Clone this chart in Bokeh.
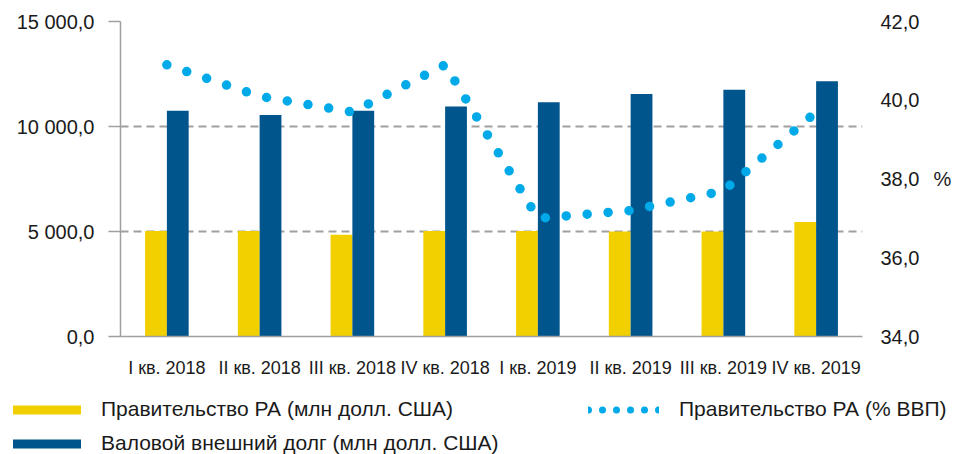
from bokeh.plotting import figure
from bokeh.models import (Range1d, FactorRange, LinearAxis, FixedTicker, Legend,
                          LegendItem, ColumnDataSource)
from bokeh.core.properties import value
from bokeh.transform import dodge
from bokeh.embed import file_html
from bokeh.resources import INLINE

# ---------------- data ----------------
quarters = ["I кв. 2018", "II кв. 2018", "III кв. 2018", "IV кв. 2018",
            "I кв. 2019", "II кв. 2019", "III кв. 2019", "IV кв. 2019"]
gov_musd = [5020, 5020, 4850, 5020, 5020, 5000, 5000, 5450]
gross_ext_debt_musd = [10750, 10550, 10750, 10950, 11150, 11550, 11750, 12150]
gov_pct_gdp = [40.9, 40.1, 39.7, 40.9, 37.0, 37.2, 37.7, 39.7]

left_ticks = [0, 5000, 10000, 15000]
left_tick_labels = ["0,0", "5 000,0", "10 000,0", "15 000,0"]
right_ticks = [34, 36, 38, 40, 42]
right_tick_labels = ["34,0", "36,0", "38,0", "40,0", "42,0"]
legend_labels = ["Правительство РА (млн долл. США)",
                 "Валовой внешний долг (млн долл. США)",
                 "Правительство РА (% ВВП)"]
right_unit = "%"

# ---------------- style ----------------
FONT = "Liberation Sans"
TXT = "#1a1a1a"
YELLOW = "#F2D000"
BLUE = "#00558C"
CYAN = "#00AAE8"
GRID = "#A0A0A0"
BAR_W = 0.235
W = 954

src = ColumnDataSource(dict(q=quarters, gov=gov_musd, debt=gross_ext_debt_musd,
                            pct=gov_pct_gdp))

p = figure(width=W, height=380,
           x_range=FactorRange(factors=quarters, range_padding=0),
           y_range=Range1d(0, 15000),
           output_backend="svg", toolbar_location=None,
           min_border_left=120, min_border_right=87,
           min_border_top=21, min_border_bottom=43)
p.outline_line_color = None
p.background_fill_color = "white"
p.extra_y_ranges = {"pct": Range1d(34, 42)}

p.vbar(x=dodge("q", -BAR_W / 2, range=p.x_range), top="gov", width=BAR_W,
       source=src, fill_color=YELLOW, line_color=None)
p.vbar(x=dodge("q", BAR_W / 2, range=p.x_range), top="debt", width=BAR_W,
       source=src, fill_color=BLUE, line_color=None)
p.line(x="q", y="pct", source=src, y_range_name="pct",
       line_color=CYAN, line_width=9.5, line_dash="0 21", line_cap="round")

# ---------------- axes ----------------
xa = p.below[0]
xa.axis_line_color = GRID
xa.axis_line_width = 1.5
xa.major_tick_line_color = None
xa.minor_tick_line_color = None
xa.major_label_text_font = FONT
xa.major_label_text_font_size = "18px"
xa.major_label_text_color = TXT
xa.major_label_standoff = 15

ya = p.left[0]
ya.ticker = FixedTicker(ticks=left_ticks)
ya.major_label_overrides = dict(zip(left_ticks, left_tick_labels))
ya.axis_line_color = GRID
ya.axis_line_width = 1.5
ya.major_tick_line_color = GRID
ya.major_tick_line_width = 1.5
ya.major_tick_out = 12
ya.major_tick_in = 0
ya.minor_tick_line_color = None
ya.major_label_text_font = FONT
ya.major_label_text_font_size = "20px"
ya.major_label_text_color = TXT
ya.major_label_standoff = 14

ra = LinearAxis(y_range_name="pct", ticker=FixedTicker(ticks=right_ticks))
ra.major_label_overrides = dict(zip(right_ticks, right_tick_labels))
ra.axis_line_color = None
ra.major_tick_line_color = None
ra.minor_tick_line_color = None
ra.major_label_text_font = FONT
ra.major_label_text_font_size = "20px"
ra.major_label_text_color = TXT
ra.major_label_standoff = 12
ra.axis_label = right_unit
ra.axis_label_text_font = FONT
ra.axis_label_text_font_size = "20px"
ra.axis_label_text_font_style = "normal"
ra.axis_label_text_color = TXT
ra.axis_label_standoff = 11
try:
    ra.axis_label_orientation = "horizontal"
except Exception:
    pass
p.add_layout(ra, "right")

p.xgrid.visible = False
p.ygrid.grid_line_color = GRID
p.ygrid.grid_line_dash = "8 5"
p.ygrid.grid_line_width = 1.8

# ---------------- legend strip (separate root, frame = whole strip) ----------------
LH = 74
lp = figure(width=W, height=LH,
            x_range=FactorRange(factors=quarters, range_padding=0),
            y_range=Range1d(0, 15000),
            x_axis_type=None, y_axis_type=None,
            output_backend="svg", toolbar_location=None, min_border=0)
lp.grid.visible = False
lp.outline_line_color = None
# same series, not drawn here: they only supply the legend samples
l_yel = lp.vbar(x="q", top="gov", width=BAR_W, source=src, fill_color=YELLOW,
                line_color=None, visible=False)
l_blu = lp.vbar(x="q", top="debt", width=BAR_W, source=src, fill_color=BLUE,
                line_color=None, visible=False)
l_dot = lp.line(x="q", y="pct", source=src, line_color=CYAN, line_width=7,
                line_dash="0 14", line_cap="round", visible=False)

leg_style = dict(padding=0, margin=0, border_line_alpha=0, background_fill_alpha=0,
                 label_text_font=FONT, label_text_font_size="21px",
                 label_text_color=TXT, label_height=20)
leg1 = Legend(items=[LegendItem(label=value(legend_labels[0]), renderers=[l_yel]),
                     LegendItem(label=value(legend_labels[1]), renderers=[l_blu])],
              location=(4, -1), glyph_width=85, glyph_height=11,
              label_standoff=12, spacing=10, **leg_style)
leg2 = Legend(items=[LegendItem(label=value(legend_labels[2]), renderers=[l_dot])],
              location=(588, 33), glyph_width=71, glyph_height=11,
              label_standoff=20, **leg_style)
lp.add_layout(leg1)
lp.add_layout(leg2)

open("out.html", "w").write(file_html([p, lp], INLINE))
